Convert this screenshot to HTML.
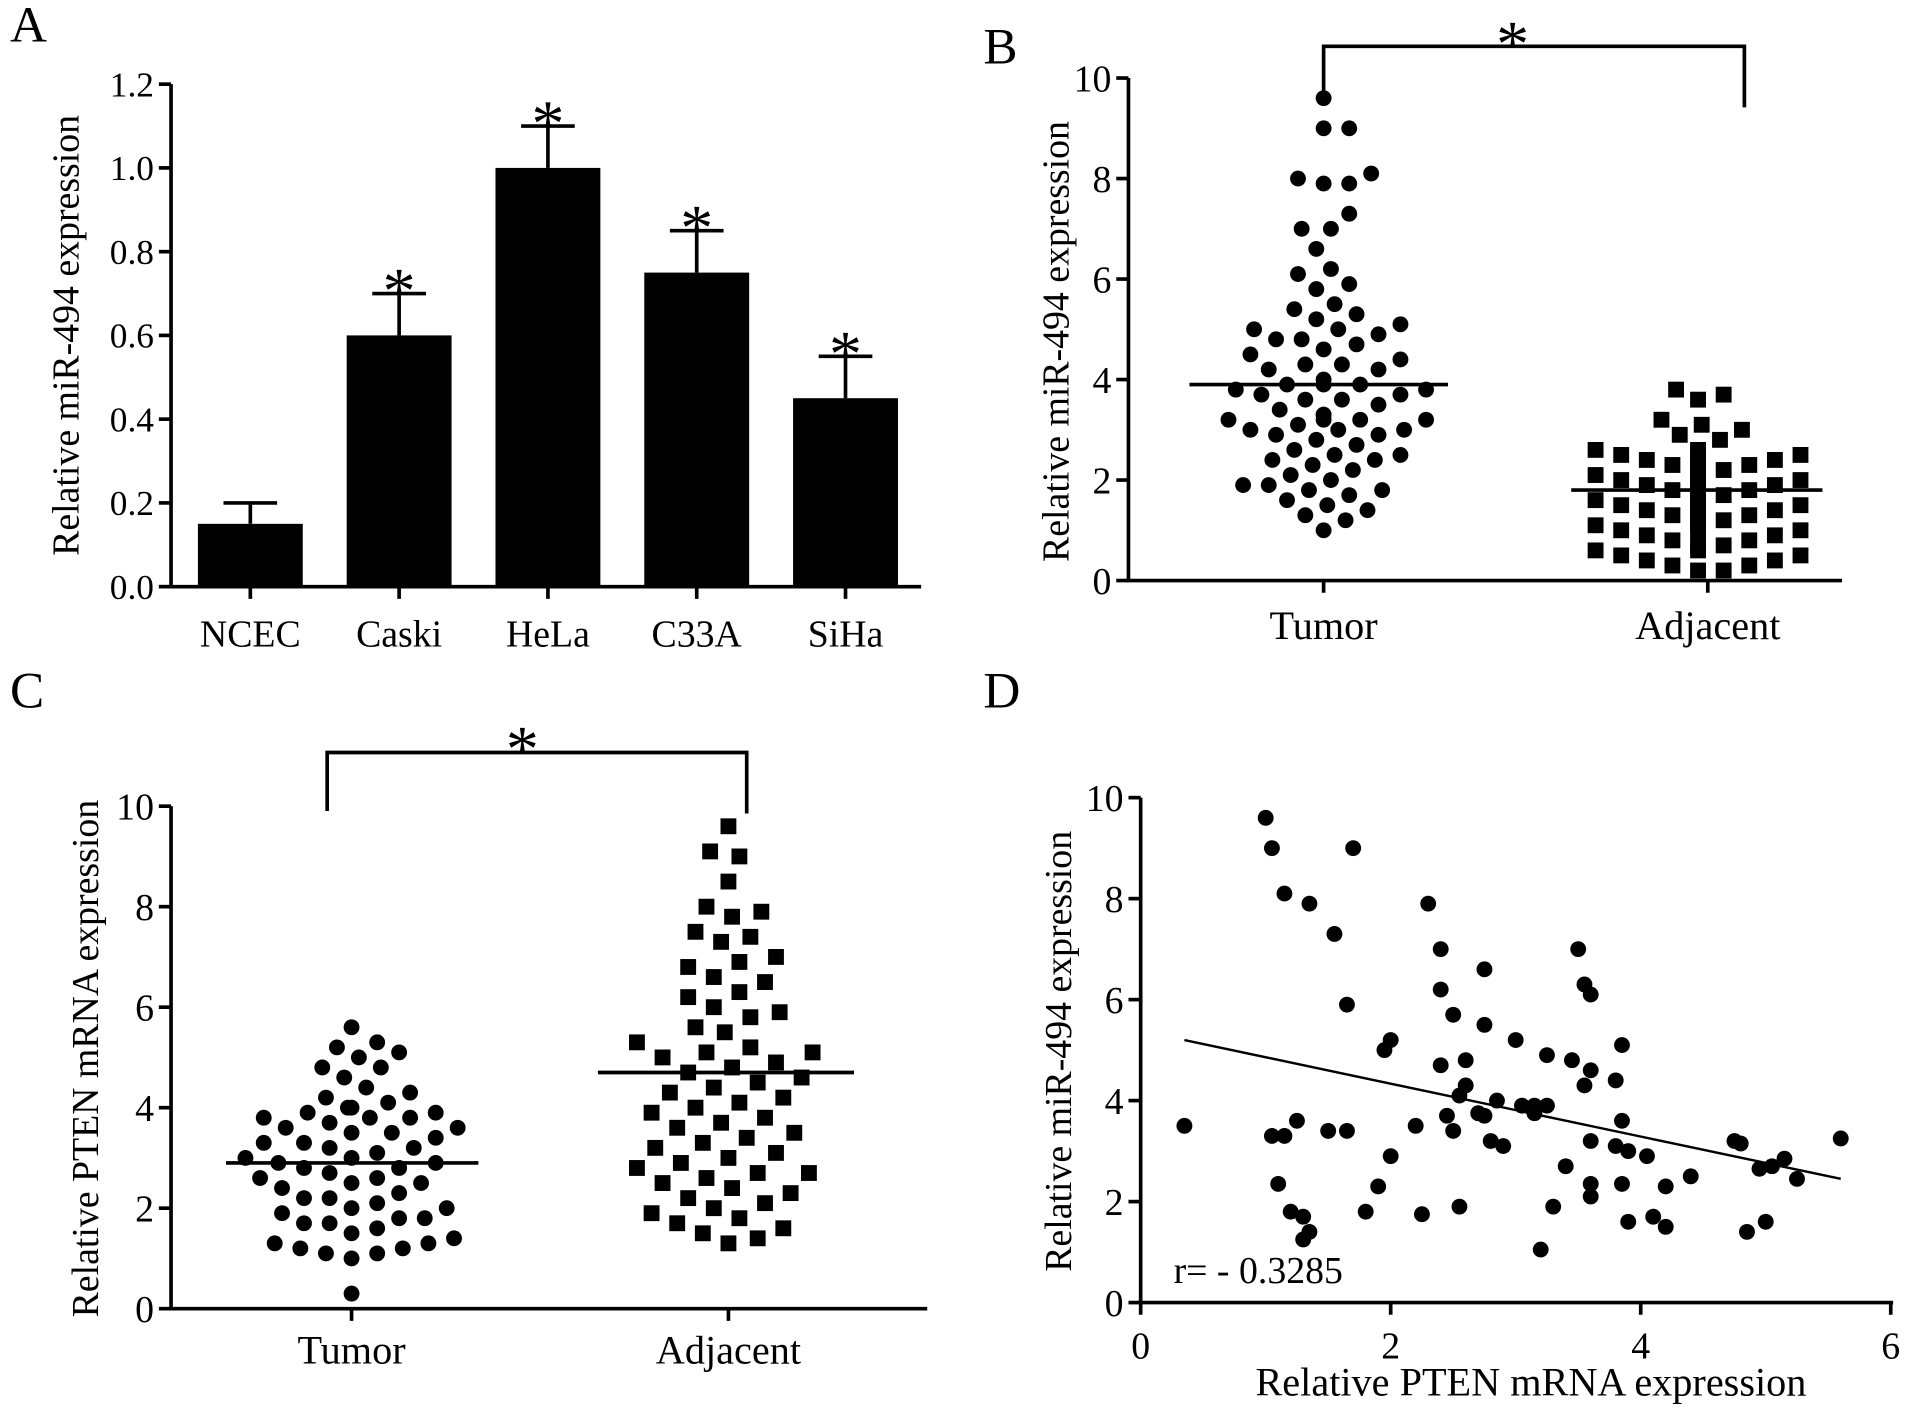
<!DOCTYPE html>
<html><head><meta charset="utf-8"><style>
html,body{margin:0;padding:0;background:#fff;}
svg{display:block;font-family:"Liberation Serif",serif;}
</style></head><body>
<svg id="fig" width="1913" height="1416" viewBox="0 0 1568 1161" xmlns="http://www.w3.org/2000/svg"></svg>
<script>
// ---- Panel A data ----
const aCats = ["NCEC","Caski","HeLa","C33A","SiHa"];
const aVals = [0.15,0.6,1.0,0.75,0.45];
const aErr = [0.05,0.1,0.1,0.1,0.1];
const aStar = [false,true,true,true,true];
const aTicks = ["0.0","0.2","0.4","0.6","0.8","1.0","1.2"];
// ---- Panel B data ----
const bTumor = [9.6,9.0,9.0,8.1,8.0,7.9,7.9,7.3,7.0,7.0,6.6,6.2,6.1,5.9,5.8,5.5,5.4,5.3,5.2,5.1,5.0,5.0,4.9,4.8,4.8,4.7,4.6,4.5,4.4,4.3,4.3,4.2,4.2,4.0,3.9,3.9,3.9,3.8,3.8,3.7,3.7,3.6,3.6,3.5,3.4,3.3,3.3,3.2,3.2,3.2,3.2,3.1,3.0,3.0,3.0,2.9,2.9,2.8,2.7,2.6,2.5,2.5,2.4,2.4,2.3,2.2,2.1,2.0,1.9,1.9,1.8,1.8,1.7,1.6,1.5,1.4,1.3,1.2,1.0];
const bAdj = [3.8,3.7,3.6,3.2,3.1,3.0,2.9,2.8,2.6,2.6,2.5,2.5,2.5,2.4,2.4,2.4,2.3,2.3,2.3,2.2,2.2,2.2,2.1,2.1,2.1,2.0,2.0,2.0,2.0,1.9,1.9,1.9,1.8,1.8,1.8,1.8,1.7,1.7,1.7,1.6,1.6,1.6,1.5,1.5,1.5,1.4,1.4,1.4,1.3,1.3,1.3,1.2,1.2,1.2,1.1,1.1,1.0,1.0,1.0,0.9,0.9,0.8,0.8,0.7,0.7,0.6,0.6,0.5,0.5,0.4,0.4,0.3,0.3,0.2,0.2];
const bMeans = [3.9,1.8];
// ---- Panel C data ----
const cTumor = [5.6,5.3,5.2,5.1,5.0,4.8,4.8,4.6,4.4,4.3,4.2,4.1,4.0,4.0,3.9,3.9,3.8,3.8,3.8,3.7,3.6,3.6,3.5,3.5,3.4,3.3,3.3,3.2,3.2,3.1,3.0,3.0,2.9,2.9,2.8,2.8,2.7,2.6,2.6,2.5,2.5,2.4,2.3,2.2,2.2,2.1,2.0,2.0,1.9,1.8,1.8,1.7,1.7,1.6,1.5,1.4,1.3,1.3,1.2,1.2,1.1,1.1,1.0,0.3];
const cAdj = [9.6,9.1,9.0,8.5,8.0,7.9,7.8,7.5,7.4,7.3,7.0,6.9,6.8,6.6,6.5,6.3,6.2,6.0,5.9,5.8,5.6,5.5,5.3,5.2,5.1,5.1,5.0,4.9,4.8,4.7,4.6,4.5,4.4,4.3,4.2,4.1,4.0,3.9,3.8,3.7,3.6,3.5,3.4,3.3,3.2,3.1,3.0,2.9,2.8,2.7,2.7,2.6,2.5,2.4,2.3,2.2,2.1,2.0,1.9,1.8,1.7,1.6,1.5,1.4,1.3];
const cMeans = [2.9,4.7];
// ---- Panel D data ----
const dX = [0.35,1.0,1.05,1.7,1.15,1.35,2.3,1.55,2.4,3.5,2.75,3.55,3.6,2.4,1.65,2.5,2.75,3.0,2.0,1.95,3.85,3.45,2.6,2.4,3.25,3.6,3.55,3.8,2.6,2.55,2.85,3.05,3.15,3.25,3.15,2.45,2.7,2.75,3.85,1.05,1.15,1.25,1.5,1.65,2.2,2.5,2.8,2.9,3.6,3.8,3.9,4.05,4.75,4.8,5.6,5.15,5.05,4.95,5.25,2.0,3.4,3.6,3.6,3.85,4.2,4.4,1.1,1.9,1.2,1.3,1.8,2.25,2.55,3.3,3.9,4.1,4.2,5.0,4.85,1.35,1.3,3.2];
const dY = [3.5,9.6,9.0,9.0,8.1,7.9,7.9,7.3,7.0,7.0,6.6,6.3,6.1,6.2,5.9,5.7,5.5,5.2,5.2,5.0,5.1,4.8,4.8,4.7,4.9,4.6,4.3,4.4,4.3,4.1,4.0,3.9,3.9,3.9,3.75,3.7,3.75,3.7,3.6,3.3,3.3,3.6,3.4,3.4,3.5,3.4,3.2,3.1,3.2,3.1,3.0,2.9,3.2,3.15,3.25,2.85,2.7,2.65,2.45,2.9,2.7,2.35,2.1,2.35,2.3,2.5,2.35,2.3,1.8,1.7,1.8,1.75,1.9,1.9,1.6,1.7,1.5,1.6,1.4,1.4,1.25,1.05];
const dFit = [[0.35,5.2],[5.6,2.45]];
const yTicks10 = ["0","2","4","6","8","10"];
const dXTicks = ["0","2","4","6"];

const NS="http://www.w3.org/2000/svg";
const svg=document.getElementById('fig');
function mk(tag,attrs,parent){const e=document.createElementNS(NS,tag);for(const k in attrs)e.setAttribute(k,attrs[k]);(parent||svg).appendChild(e);return e;}
function txt(x,y,s,size,anchor,parent,rot){const t=mk('text',{x:x,y:y,'font-size':size,'text-anchor':anchor||'middle',fill:'#000'},parent);if(rot)t.setAttribute('transform',`rotate(-90 ${x} ${y})`);t.textContent=s;return t;}
function ln(x1,y1,x2,y2,w,parent){return mk('line',{x1:x1,y1:y1,x2:x2,y2:y2,stroke:'#000','stroke-width':w||3},parent);}

[["A",8,34],["B",806,52],["C",8,580],["D",806,580]].forEach(p=>{const t=txt(p[1],p[2],p[0],42,'start');});

// ===== Panel A =====
const gA=mk('g',{});


const aY=v=>481-v/1.2*412, aX=i=>205+i*122;
ln(140,69,140,482,3,gA);ln(138,481,755,481,3,gA);
aTicks.forEach((s,i)=>{const v=i*0.2,y=aY(v);ln(130,y,140,y,3,gA);txt(126,y+10,s,29,'end',gA);});
aCats.forEach((c,i)=>{
  const cx=aX(i),top=aY(aVals[i]),et=aY(aVals[i]+aErr[i]);
  const r=mk('rect',{x:cx-43,y:top,width:86,height:481-top,fill:'#000'},gA);
  
  
  ln(cx,top,cx,et,3,gA);ln(cx-22,et,cx+22,et,3,gA);
  ln(cx,481,cx,491,3,gA);
  txt(cx,530,c,31,'middle',gA);
  if(aStar[i])txt(cx,et+16,'*',54,'middle',gA);
});
const aT=txt(64,275,'Relative miR-494 expression',31,'middle',gA,true);


// collision-avoiding beeswarm
function swarm(vals,cx,yf,g,shape,name,gap){
  const placed=[];
  const sorted=vals.slice().sort((a,b)=>a-b);
  sorted.forEach(v=>{
    const y=yf(v);
    let x=cx;
    for(let k=0;k<60;k++){
      const off=(k%2?1:-1)*Math.ceil(k/2)*3;
      const tx=cx+off;
      if(placed.every(p=>(p[0]-tx)**2+(p[1]-y)**2>=gap*gap)){x=tx;break;}
    }
    placed.push([x,y]);
    let e;
    if(shape==='c')e=mk('circle',{cx:x,cy:y,r:6.5,fill:'#000'},g);
    else e=mk('rect',{x:x-6.5,y:y-6.5,width:13,height:13,fill:'#000'},g);
    
    
  });
}
function yAxis10(g,x0,y0,y10){
  const f=v=>y0-v/10*(y0-y10);
  ln(x0,y10,x0,y0+1,3,g);
  yTicks10.forEach((s,i)=>{const y=f(i*2);ln(x0-10,y,x0,y,3,g);txt(x0-14,y+11,s,31,'end',g);});
  return f;
}

// ===== Panel B =====
const gB=mk('g',{});


const bY=yAxis10(gB,925,476,64);
ln(923,476,1510,476,3,gB);
[[1085,'Tumor'],[1400,'Adjacent']].forEach(p=>{ln(p[0],476,p[0],486,3,gB);txt(p[0],524,p[1],33,'middle',gB);});
swarm(bTumor,1085,bY,gB,'c','tumor-dot',19);
swarm(bAdj,1392,bY,gB,'s','adjacent-square',19);
ln(975,bY(bMeans[0]),1187,bY(bMeans[0]),3,gB);
ln(1288,bY(bMeans[1]),1494,bY(bMeans[1]),3,gB);
mk('polyline',{points:'1085,78 1085,38 1430,38 1430,88',fill:'none',stroke:'#000','stroke-width':3},gB);
txt(1240,54,'*',54,'middle',gB);
txt(876,280,'Relative miR-494 expression',31,'middle',gB,true);

// ===== Panel C =====
const gC=mk('g',{});


const cY=yAxis10(gC,140,1073,661);
ln(138,1073,760,1073,3,gC);
[[288,'Tumor'],[597,'Adjacent']].forEach(p=>{ln(p[0],1073,p[0],1083,3,gC);txt(p[0],1118,p[1],33,'middle',gC);});
swarm(cTumor,288,cY,gC,'c','tumor-dot',19);
swarm(cAdj,597,cY,gC,'s','adjacent-square',22);
ln(185,cY(cMeans[0]),392,cY(cMeans[0]),3,gC);
ln(490,cY(cMeans[1]),700,cY(cMeans[1]),3,gC);
mk('polyline',{points:'268,665 268,617 612,617 612,667',fill:'none',stroke:'#000','stroke-width':3},gC);
txt(428,632,'*',54,'middle',gC);
txt(80,868,'Relative PTEN mRNA expression',31,'middle',gC,true);

// ===== Panel D =====
const gD=mk('g',{});


const dYf=yAxis10(gD,935,1068,654);
const dXf=v=>935+v/6*615;
ln(933,1068,1552,1068,3,gD);
dXTicks.forEach((s,i)=>{const x=dXf(i*2);ln(x,1068,x,1078,3,gD);txt(x,1114,s,31,'middle',gD);});
dX.forEach((x,i)=>{const c=mk('circle',{cx:dXf(x),cy:dYf(dY[i]),r:6.5,fill:'#000'},gD);
  
  });
ln(dXf(dFit[0][0]),dYf(dFit[0][1]),dXf(dFit[1][0]),dYf(dFit[1][1]),2,gD);
txt(962,1052,'r= - 0.3285',31,'start',gD);
txt(1255,1144,'Relative PTEN mRNA expression',33,'middle',gD);
txt(878,862,'Relative miR-494 expression',31,'middle',gD,true);
</script>
</body></html>
